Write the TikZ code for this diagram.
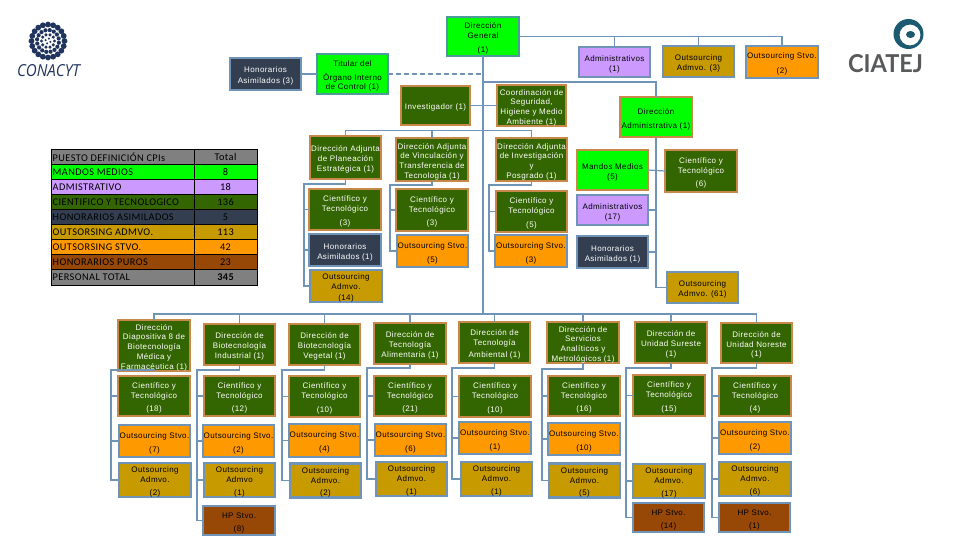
\documentclass[tikz,border=0pt]{standalone}
\usepackage{fontspec}
\setmainfont[LetterSpace=5]{Liberation Sans}
\newfontfamily\tablefont[LetterSpace=4]{Carlito}
\newfontfamily\conafont{Open Sans}
\newfontfamily\ciafont{Lato}
\definecolor{cgreen}{HTML}{00FF00}
\definecolor{clilac}{HTML}{CC99FF}
\definecolor{cdark}{HTML}{336600}
\definecolor{cnavy}{HTML}{333F50}
\definecolor{cgold}{HTML}{C79A00}
\definecolor{corange}{HTML}{FF9900}
\definecolor{cbrown}{HTML}{984806}
\definecolor{cgrey}{HTML}{808080}
\definecolor{cline}{HTML}{6F94B8}
\definecolor{cbrd}{HTML}{C8884A}
\definecolor{cteal}{HTML}{4F9A9A}
\definecolor{clogo}{HTML}{1F3560}
\definecolor{cring}{HTML}{1B5A70}
\definecolor{ctext}{HTML}{58595B}
\tikzset{
 box/.style={draw,line width=2.3pt,inner sep=0pt,outer sep=0pt,align=center,
   font=\fontsize{8}{9.7}\selectfont},
 dgbox/.style={box,fill=cdark,draw=cbrd,text=white},
 hgbox/.style={box,fill=cgreen,draw=cbrd,text=black},
 topbox/.style={box,fill=cgreen,draw=cteal,text=black},
 libox/.style={box,fill=clilac,draw=cline,text=black},
 nvbox/.style={box,fill=cnavy,draw=cline,text=white},
 glbox/.style={box,fill=cgold,draw=cline,text=black},
 orbox/.style={box,fill=corange,draw=cline,text=black},
 brbox/.style={box,fill=cbrown,draw=cline,text=black},
 link/.style={draw=cline,line width=1.2pt},
 linkdash/.style={link,dash pattern=on 5pt off 3pt},
 rowtxt/.style={inner sep=0pt,font=\tablefont\fontsize{10.3}{12}\selectfont,text=black},
}
\newcommand{\bx}[7]{\node[#2,minimum width={(#5-#3-2.3)*1pt},minimum height={(#6-#4-2.3)*1pt}] (#1) at ({(#3+#5)/2},{(#4+#6)/2}) {\rule{0pt}{10pt}#7};}
\newcommand{\trow}[7]{% name fill y1 y2 label value extra
 \fill[#2] (51,#3) rectangle (258,#4);
 \node[rowtxt,anchor=west] (#1a) at (52.5,{(#3+#4)/2}) {#5};
 \node[rowtxt] (#1b) at (225.5,{(#3+#4)/2}) {#7#6};}
\begin{document}
\begin{tikzpicture}[x=1pt,y=-1pt]
\useasboundingbox (0,0) rectangle (960,540);
\fill[white] (0,0) rectangle (960,540);
% top
\bx{dg}{topbox}{446}{16}{520}{57}{Dirección\\General\\[4pt](1)}
\bx{hon3}{nvbox}{229}{57}{302}{91}{Honorarios\\[1pt]Asimilados (3)}
\bx{tit}{topbox}{316}{53}{389}{95}{Titular del\\[4pt]Órgano Interno\\de Control (1)}
\bx{inv}{dgbox}{400}{85}{471}{126}{Investigador (1)}
\bx{coo}{dgbox}{496}{85}{567}{126}{Coordinación de\\Seguridad,\\Higiene y Medio\\Ambiente (1)}
\bx{adm1}{libox}{578}{46}{651}{78}{Administrativos\\(1)}
\bx{oa3}{glbox}{662}{45}{735}{78}{Outsourcing\\Admvo. (3)}
\bx{os2}{orbox}{745}{45}{819}{79}{Outsourcing Stvo.\\[5pt](2)}
\bx{dadm}{hgbox}{619}{96}{693}{138}{Dirección\\[4pt]Administrativa (1)}
% adjuntas
\bx{da1}{dgbox}{309}{135}{382}{180}{Dirección Adjunta\\de Planeación\\Estratégica (1)}
\bx{da2}{dgbox}{395}{137}{469}{182}{Dirección Adjunta\\de Vinculación y\\Transferencia de\\Tecnología (1)}
\bx{da3}{dgbox}{495}{137}{568}{182}{Dirección Adjunta\\de Investigación\\y\\Posgrado (1)}
\bx{cy1}{dgbox}{308}{188}{382}{231}{Científico y\\Tecnológico\\[4pt](3)}
\bx{cy2}{dgbox}{395}{188}{469}{232}{Científico y\\Tecnológico\\[4pt](3)}
\bx{cy3}{dgbox}{495}{190}{568}{233}{Científico y\\Tecnológico\\[4pt](5)}
\bx{ho1}{nvbox}{308}{233}{382}{267}{Honorarios\\Asimilados (1)}
\bx{os5}{orbox}{396}{234}{469}{268}{Outsourcing Stvo.\\[4pt](5)}
\bx{os3}{orbox}{494}{234}{568}{268}{Outsourcing Stvo.\\[4pt](3)}
\bx{oa14}{glbox}{309}{269}{383}{303}{Outsourcing\\Admvo.\\[1pt](14)}
% administrativa
\bx{mm5}{hgbox}{576}{149}{649}{191}{Mandos Medios\\(5)}
\bx{cy6}{dgbox}{664}{149}{738}{193}{Científico y\\Tecnológico\\[4pt](6)}
\bx{ad17}{libox}{576}{194}{649}{226}{Administrativos\\(17)}
\bx{ho1b}{nvbox}{576}{235}{649}{269}{Honorarios\\Asimilados (1)}
\bx{oa61}{glbox}{666}{271}{739}{304}{Outsourcing\\Admvo. (61)}
% column 1
\bx{d1}{dgbox}{117}{324}{191}{367}{Dirección\\Diapositiva 8 de\\Biotecnología\\Médica y\\Farmacéutica (1)}
\bx{c1}{dgbox}{117}{375}{191}{417}{Científico y\\Tecnológico\\[4pt](18)}
\bx{s1}{orbox}{118}{424}{191}{458}{Outsourcing Stvo.\\[4pt](7)}
\bx{a1}{glbox}{118}{463}{192}{497}{Outsourcing\\Admvo.\\[3pt](2)}
% column 2
\bx{d2}{dgbox}{203}{323}{276}{366}{Dirección de\\Biotecnología\\Industrial (1)}
\bx{c2}{dgbox}{203}{375}{276}{417}{Científico y\\Tecnológico\\[4pt](12)}
\bx{s2}{orbox}{202}{424}{275}{458}{Outsourcing Stvo.\\[4pt](2)}
\bx{a2}{glbox}{203}{463}{276}{497}{Outsourcing\\Admvo\\[3pt](1)}
\bx{h2}{brbox}{202}{505}{276}{536}{HP Stvo.\\[3pt](8)}
% column 3
\bx{d3}{dgbox}{288}{323}{361}{366}{Dirección de\\Biotecnología\\Vegetal (1)}
\bx{c3}{dgbox}{288}{375}{361}{418}{Científico y\\Tecnológico\\[4pt](10)}
\bx{s3}{orbox}{288}{423}{361}{458}{Outsourcing Stvo.\\[4pt](4)}
\bx{a3}{glbox}{289}{463}{362}{498}{Outsourcing\\Admvo.\\[3pt](2)}
% column 4
\bx{d4}{dgbox}{373}{322}{447}{365}{Dirección de\\Tecnología\\Alimentaria (1)}
\bx{c4}{dgbox}{373}{375}{447}{417}{Científico y\\Tecnológico\\[4pt](21)}
\bx{s4}{orbox}{374}{423}{447}{457}{Outsourcing Stvo.\\[4pt](6)}
\bx{a4}{glbox}{375}{462}{448}{496}{Outsourcing\\Admvo.\\[3pt](1)}
% column 5
\bx{d5}{dgbox}{458}{321}{531}{364}{Dirección de\\Tecnología\\[2pt]Ambiental (1)}
\bx{c5}{dgbox}{458}{375}{532}{418}{Científico y\\Tecnológico\\[4pt](10)}
\bx{s5}{orbox}{458}{421}{532}{455}{Outsourcing Stvo.\\[4pt](1)}
\bx{a5}{glbox}{460}{462}{533}{496}{Outsourcing\\Admvo.\\[3pt](1)}
% column 6
\bx{d6}{dgbox}{546}{321}{620}{364}{Dirección de\\Servicios\\Analíticos y\\Metrológicos (1)}
\bx{c6}{dgbox}{547}{375}{621}{417}{Científico y\\Tecnológico\\[4pt](16)}
\bx{s6}{orbox}{547}{422}{621}{456}{Outsourcing Stvo.\\[4pt](10)}
\bx{a6}{glbox}{548}{463}{621}{498}{Outsourcing\\Admvo.\\[3pt](5)}
% column 7
\bx{d7}{dgbox}{634}{321}{708}{364}{Dirección de\\Unidad Sureste\\(1)}
\bx{c7}{dgbox}{632}{374}{706}{417}{Científico y\\Tecnológico\\[4pt](15)}
\bx{a7}{glbox}{632}{464}{706}{498}{Outsourcing\\Admvo.\\[3pt](17)}
\bx{h7}{brbox}{632}{502}{705}{533}{HP Stvo.\\[3pt](14)}
% column 8
\bx{d8}{dgbox}{720}{322}{793}{364}{Dirección de\\Unidad Noreste\\(1)}
\bx{c8}{dgbox}{718}{375}{792}{417}{Científico y\\Tecnológico\\[4pt](4)}
\bx{s8}{orbox}{718}{421}{792}{455}{Outsourcing Stvo.\\[4pt](2)}
\bx{a8}{glbox}{718}{462}{792}{496}{Outsourcing\\Admvo.\\[3pt](6)}
\bx{h8}{brbox}{718}{502}{791}{533}{HP Stvo.\\[3pt](1)}
% connectors -- top
\coordinate (trunk) at (483,57);
\coordinate (busdn) at (483,314);
\draw[link] (hon3.east) -- (tit.west);
\draw[linkdash] (tit.east) -- (tit.east -| trunk);
\draw[link] (dg.south -| trunk) -- (busdn);
\draw[link] (dg.east) -- (dg.east -| os2.north) -- (os2.north);
\draw[link] (dg.east -| adm1.north) -- (adm1.north);
\draw[link] (dg.east -| oa3.north) -- (oa3.north);
\draw[link] (inv.east) -- (coo.west);
\coordinate (b82) at (483,82);
\draw[link] (b82) -| (dadm.north);
\coordinate (b130) at (483,130.5);
\draw[link] (da1.north) |- (b130) -| (da3.north);
\draw[link] (b130 -| da2.north) -- (da2.north);
% bus to lower
\draw[link] (d1.north) |- (busdn) -| (d8.north);
\foreach \n in {d2,d3,d4,d5,d6,d7} \draw[link] (busdn -| \n.north) -- (\n.north);
% adjuntas
\coordinate (v1) at (304,184);
\draw[link] (da1.south) |- (v1) |- (oa14.west);
\draw[link] (v1 |- cy1.west) -- (cy1.west);
\draw[link] (v1 |- ho1.west) -- (ho1.west);
\coordinate (v2) at (390,185);
\draw[link] (da2.south) |- (v2) |- (os5.west);
\draw[link] (v2 |- cy2.west) -- (cy2.west);
\coordinate (v3) at (489,185);
\draw[link] (da3.south) |- (v3) |- (os3.west);
\draw[link] (v3 |- cy3.west) -- (cy3.west);
% administrativa
\coordinate (va) at (656,138);
\draw[link] (va) |- (oa61.west);
\draw[link] (mm5.east) -- (cy6.west);
\draw[link] (ad17.east) -- (ad17.east -| va);
\draw[link] (ho1b.east) -- (ho1b.east -| va);
% lower columns
\coordinate (l1) at (111,370);
\draw[link] (d1.south) |- (l1) |- (a1.west);
\draw[link] (l1 |- c1.west) -- (c1.west);
\draw[link] (l1 |- s1.west) -- (s1.west);
\coordinate (l2) at (197,370);
\draw[link] (d2.south) |- (l2) |- (h2.west);
\draw[link] (l2 |- c2.west) -- (c2.west);
\draw[link] (l2 |- s2.west) -- (s2.west);
\draw[link] (l2 |- a2.west) -- (a2.west);
\coordinate (l3) at (282,370);
\draw[link] (d3.south) |- (l3) |- (a3.west);
\draw[link] (l3 |- c3.west) -- (c3.west);
\draw[link] (l3 |- s3.west) -- (s3.west);
\coordinate (l4) at (367,368);
\draw[link] (d4.south) |- (l4) |- (a4.west);
\draw[link] (l4 |- c4.west) -- (c4.west);
\draw[link] (l4 |- s4.west) -- (s4.west);
\coordinate (l5) at (452,368);
\draw[link] (d5.south) |- (l5) |- (a5.west);
\draw[link] (l5 |- c5.west) -- (c5.west);
\draw[link] (l5 |- s5.west) -- (s5.west);
\coordinate (l6) at (542,369);
\draw[link] (d6.south) |- (l6) |- (a6.west);
\draw[link] (l6 |- c6.west) -- (c6.west);
\draw[link] (l6 |- s6.west) -- (s6.west);
\coordinate (l7) at (626,368);
\draw[link] (d7.south) |- (l7) |- (h7.west);
\draw[link] (l7 |- c7.west) -- (c7.west);
\draw[link] (l7 |- a7.west) -- (a7.west);
\coordinate (l8) at (712,368);
\draw[link] (d8.south) |- (l8) |- (h8.west);
\draw[link] (l8 |- c8.west) -- (c8.west);
\draw[link] (l8 |- s8.west) -- (s8.west);
\draw[link] (l8 |- a8.west) -- (a8.west);
% table
\trow{r0}{cgrey}{149}{164.5}{PUESTO DEFINICIÓN CPIs}{Total}{}
\trow{r1}{cgreen}{164.5}{179.5}{MANDOS MEDIOS}{8}{}
\trow{r2}{clilac}{179.5}{194.5}{ADMISTRATIVO}{18}{}
\trow{r3}{cdark}{194.5}{209.5}{CIENTIFICO Y TECNOLOGICO}{136}{}
\trow{r4}{cnavy}{209.5}{224.5}{HONORARIOS ASIMILADOS}{5}{}
\trow{r5}{cgold}{224.5}{239.5}{OUTSORSING ADMVO.}{113}{}
\trow{r6}{corange}{239.5}{254.5}{OUTSORSING STVO.}{42}{}
\trow{r7}{cbrown}{254.5}{269.5}{HONORARIOS PUROS}{23}{}
\trow{r8}{cgrey}{269.5}{285}{PERSONAL TOTAL}{345}{\bfseries}
\foreach \yy in {164.5,179.5,194.5,209.5,224.5,239.5,254.5,269.5}
  \draw[black,line width=.8pt] (51,\yy) -- (258,\yy);
\draw[black,line width=.9pt] (194.5,149) -- (194.5,285);
\draw[black,line width=1.6pt] (51.5,149.5) rectangle (257.5,285.5);
% CONACYT logo
\foreach \a in {0,18,...,342} \fill[clogo] ({48+16.5*cos(\a)},{41+16.5*sin(\a)}) circle (2.9);
\foreach \a in {9,31.5,...,360} \fill[clogo] ({48+11*cos(\a)},{41+11*sin(\a)}) circle (2.1);
\foreach \a in {0,36,...,324} \fill[clogo] ({48+6.5*cos(\a)},{41+6.5*sin(\a)}) circle (1.7);
\foreach \a in {20,110,200,290} \fill[clogo] ({48+2.5*cos(\a)},{41+2.5*sin(\a)}) circle (1.2);
\node[inner sep=0pt,text=clogo] (conacyt) at (48.5,71) {\resizebox{63pt}{12pt}{\conafont\itshape CONACYT}};
% CIATEJ logo
\fill[cring,even odd rule] (908.5,34) circle (15) (910,35) circle (10.5);
\fill[cring] (910.5,34.5) ellipse (4.5 and 3.5);
\node[inner sep=0pt,text=ctext] (ciatej) at (885.5,64) {\resizebox{75pt}{18pt}{\ciafont\bfseries CIATEJ}};
\end{tikzpicture}
\end{document}
